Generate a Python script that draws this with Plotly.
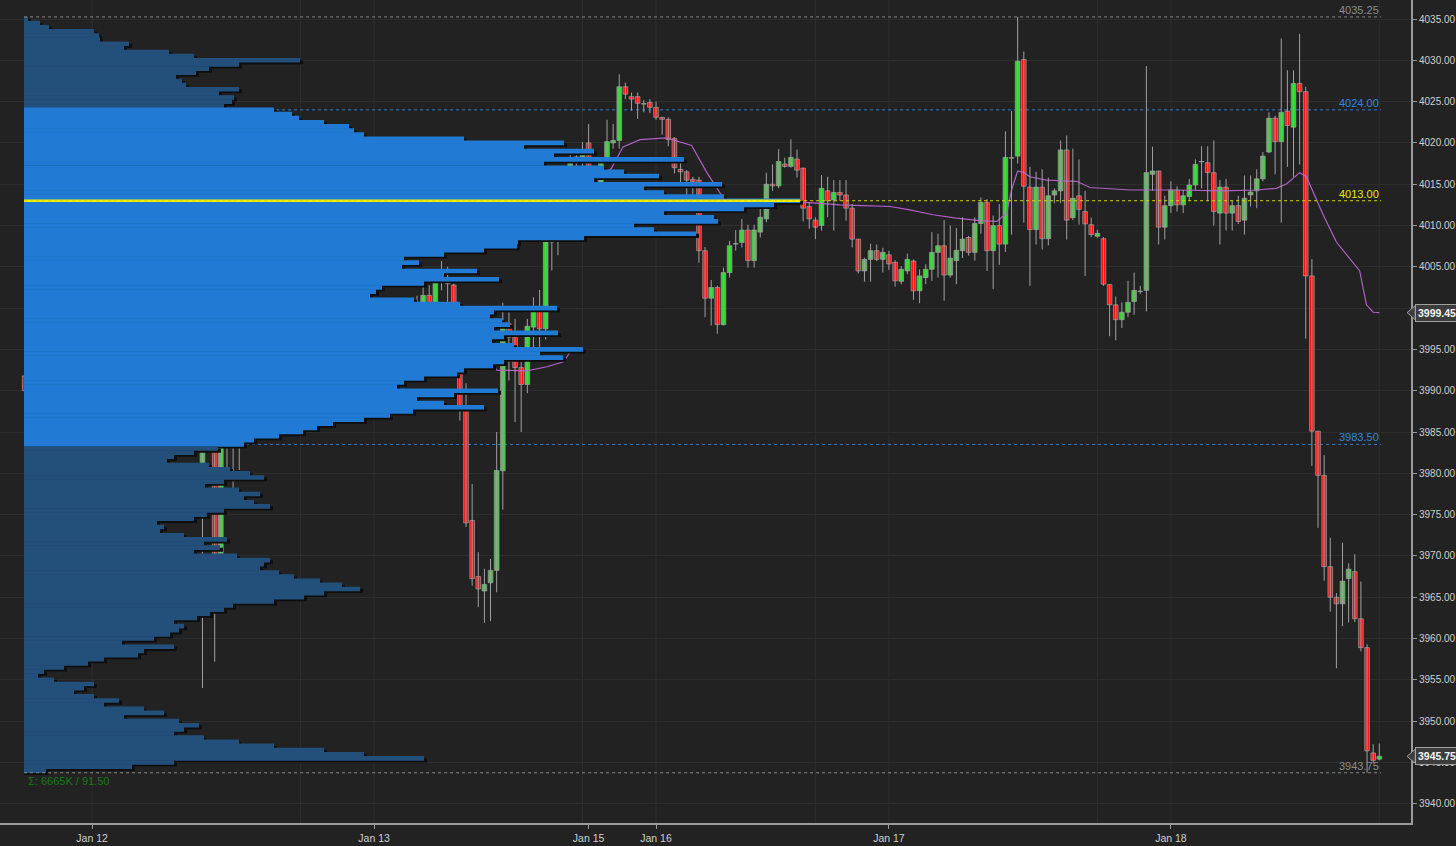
import plotly.graph_objects as go

# ---------------- data ----------------
open_ = [3991.8,3989.7,3988.3,3987.5,3988.6,3989.5,3989.7,3988.3,3988.75,3989.4,
 3989.3,3991.0,3993.95,3994.25,3993.5,3991.5,3988.3,3987.5,3988.0,3988.3,
 3988.3,3989.0,3990.5,3986.5,3989.3,3990.2,3990.55,3993.5,3999.6,3975.1,
 4013.4,3999.95,3970.3,3992.5,3988.3,3990.5,3996.7,4012.0,4011.0,3995.3,
 4016.3,4008.3,4007.25,4000.3,4002.95,4003.5,4002.95,4004.25,4004.55,4006.45,
 4003.75,4000.8,3997.5,3991.3,3994.3,3994.0,3993.75,3994.3,3994.6,3992.9,
 3994.3,3995.8,3997.0,3996.1,4000.7,4000.05,4001.55,3998.1,4003.75,4003.4,
 4002.8,3995.05,3988.0,3974.3,3967.5,3965.75,3966.75,3968.25,3980.3,3998.1,
 3996.8,3992.8,3990.75,3997.7,4000.0,3997.5,4008.0,4008.8,4009.7,4016.1,
 4017.8,4018.3,4020.0,4013.4,4013.5,4017.9,4020.0,4020.3,4026.8,4025.6,
 4025.6,4024.7,4024.9,4024.3,4023.1,4022.85,4020.55,4016.8,4016.5,4015.6,
 4015.5,4006.95,4001.2,4002.5,3998.0,4004.3,4007.75,4007.95,4009.45,4005.75,
 4009.2,4010.8,4015.0,4014.8,4017.45,4017.15,4018.05,4016.95,4012.3,4010.65,
 4010.0,4014.2,4013.1,4014.0,4013.7,4012.1,4008.35,4004.5,4005.9,4006.95,
 4005.9,4006.45,4005.55,4003.25,4004.5,4005.7,4002.1,4003.7,4004.7,4006.75,
 4007.55,4004.0,4005.75,4006.95,4008.55,4006.75,4010.25,4012.8,4006.95,4010.0,
 4007.75,4018.15,4018.4,4030.1,4014.65,4009.5,4014.65,4008.4,4013.7,4014.2,
 4019.15,4010.95,4013.6,4011.7,4010.1,4008.7,4008.4,4002.85,4000.4,3998.6,
 3999.5,4000.8,4002.0,4002.15,4016.2,4016.6,4009.8,4012.4,4014.3,4012.5,
 4013.5,4014.9,4017.7,4017.6,4016.4,4011.5,4014.65,4011.5,4012.4,4010.65,
 4013.7,4014.2,4015.65,4018.9,4023.0,4020.15,4023.85,4021.9,4027.2,4026.2,
 4003.9,3985.1,3979.75,3968.7,3965.0,3964.2,3967.25,3968.1,3962.4,3958.9,
 3946.15,3945.4]
high = [3992.25,3990.2,3989.2,3988.5,3990.9,3990.5,3990.5,3989.3,3989.8,3989.6,
 3991.8,3994.5,3995.2,3995.75,3994.0,3991.9,3988.9,3988.7,3988.2,3988.3,
 3990.9,3991.9,3990.9,3990.2,3991.4,3992.25,3995.9,4000.5,4019.65,4018.0,
 4021.45,4003.0,4002.5,4003.45,3995.2,3999.0,4012.6,4012.6,4011.5,4017.9,
 4018.5,4009.0,4009.0,4004.8,4005.0,4004.0,4005.0,4005.4,4008.2,4008.0,
 4004.0,4001.0,3997.7,3994.5,3996.3,3994.3,3994.8,3995.0,3994.9,3995.1,
 3997.1,3998.4,3998.5,4000.9,4001.5,4002.75,4002.75,4003.85,4005.7,4005.0,
 4002.95,3995.9,3990.9,3978.7,3970.45,3968.45,3969.65,3985.0,4000.65,3999.5,
 3998.7,3993.5,3998.7,4001.3,4002.2,4009.7,4010.7,4009.6,4016.5,4018.7,
 4019.3,4020.1,4022.3,4014.9,4017.9,4022.8,4022.3,4028.3,4027.3,4026.1,
 4026.1,4025.2,4025.3,4025.0,4023.1,4023.1,4020.7,4018.0,4016.7,4015.9,
 4015.9,4007.4,4003.4,4002.7,4004.9,4008.15,4009.45,4010.8,4010.1,4010.1,
 4012.1,4016.4,4017.4,4019.25,4018.2,4020.45,4019.2,4017.0,4012.8,4011.0,
 4016.1,4015.9,4015.5,4015.5,4015.5,4012.6,4008.35,4006.1,4007.8,4007.7,
 4007.3,4006.95,4005.8,4005.1,4006.6,4005.9,4004.7,4005.3,4009.2,4009.0,
 4010.65,4010.0,4009.7,4011.0,4008.75,4011.0,4013.4,4013.2,4011.2,4012.6,
 4021.4,4023.85,4035.25,4031.05,4017.1,4016.5,4016.8,4015.8,4014.5,4020.3,
 4020.9,4019.3,4018.0,4014.2,4010.95,4009.5,4008.6,4002.9,4001.4,4000.7,
 4003.3,4004.3,4002.7,4029.3,4019.55,4016.6,4013.6,4015.35,4014.75,4014.3,
 4015.65,4018.0,4019.6,4019.6,4020.3,4015.5,4015.65,4013.1,4013.6,4016.05,
 4016.05,4016.8,4018.9,4023.7,4023.3,4032.65,4028.8,4028.8,4033.2,4026.8,
 4005.95,3985.1,3982.2,3972.2,3965.5,3971.6,3969.1,3970.2,3966.9,3959.3,
 3947.2,3947.3]
low = [3988.4,3987.55,3985.8,3985.3,3988.2,3988.0,3988.0,3987.9,3988.0,3988.7,
 3989.1,3990.8,3992.6,3992.9,3991.25,3988.0,3985.8,3985.4,3985.1,3985.1,
 3986.4,3988.7,3985.1,3985.8,3988.0,3990.0,3990.2,3992.9,3988.2,3954.0,
 3987.2,3957.2,3969.4,3979.3,3976.6,3980.4,3994.85,4009.8,3992.5,3988.7,
 4006.4,4000.7,3996.1,3991.85,4000.5,4002.35,4000.5,4002.55,4004.15,4002.2,
 3998.7,3995.6,3990.9,3990.6,3992.9,3992.5,3992.9,3994.1,3992.5,3992.3,
 3994.1,3995.8,3995.7,3993.3,3999.0,3999.3,3997.2,3997.9,4002.15,4000.7,
 3994.9,3986.4,3973.5,3966.4,3963.8,3961.9,3962.1,3965.6,3975.6,3991.25,
 3986.2,3985.0,3989.7,3994.1,3994.9,3996.2,4004.55,4006.4,4009.4,4014.7,
 4014.25,4015.5,4012.1,4012.1,4012.1,4017.9,4019.3,4019.3,4025.3,4023.9,
 4022.9,4023.7,4023.6,4022.8,4021.0,4019.6,4016.3,4014.9,4013.2,4013.5,
 4005.5,3998.9,3997.9,3996.9,3997.9,4003.7,4006.95,4007.35,4004.9,4004.9,
 4008.55,4010.4,4014.2,4014.5,4017.0,4017.0,4015.8,4010.5,4009.6,4008.35,
 4009.4,4011.0,4009.4,4013.0,4010.6,4007.35,4004.2,4003.2,4003.2,4005.7,
 4004.3,4004.6,4002.6,4002.9,4004.1,4001.0,4000.6,4002.9,4003.3,4003.7,
 4000.9,4003.7,4002.9,4006.05,4006.35,4005.75,4009.0,4004.5,4002.3,4005.25,
 4006.8,4008.9,4017.5,4010.35,4002.7,4007.7,4007.1,4007.6,4012.7,4012.7,
 4008.3,4010.65,4010.1,4003.9,4008.6,4008.5,4002.7,3996.6,3996.1,3997.6,
 3998.9,3999.2,4001.7,3999.6,4014.2,4007.7,4008.3,4011.5,4011.7,4011.5,
 4013.0,4014.3,4014.5,4013.0,4010.0,4007.7,4009.4,4009.4,4010.2,4008.9,
 4012.3,4012.1,4015.35,4018.75,4016.2,4010.35,4017.1,4015.9,4017.4,3996.3,
 3980.9,3973.4,3967.0,3963.25,3956.4,3961.5,3961.95,3962.0,3958.45,3943.75,
 3944.95,3945.25]
close = [3990.0,3988.3,3987.8,3988.3,3989.5,3989.75,3988.3,3988.75,3989.3,3989.5,
 3991.0,3993.95,3994.25,3993.5,3991.8,3988.3,3987.8,3988.0,3988.0,3988.3,
 3989.0,3990.7,3986.5,3989.3,3990.45,3990.55,3993.7,3999.95,3988.6,4013.2,
 3999.7,3970.3,3992.8,3988.3,3990.45,3996.7,4012.0,4011.05,3995.3,4016.3,
 4008.1,4007.55,4000.3,4002.95,4003.5,4002.9,4004.25,4004.5,4006.4,4003.55,
 4001.0,3997.8,3991.3,3994.3,3994.0,3993.75,3994.25,3994.6,3992.9,3994.5,
 3995.9,3997.0,3996.1,4000.5,4000.05,4001.55,3997.8,4003.5,4003.25,4002.95,
 3995.3,3988.0,3974.0,3967.25,3966.0,3966.55,3968.25,3980.35,3998.1,3996.5,
 3992.8,3990.75,3997.8,3999.7,3997.5,4008.0,4008.7,4009.5,4016.1,4017.7,
 4018.3,4019.1,4013.4,4013.5,4017.9,4020.15,4020.3,4026.8,4025.9,4025.3,
 4024.8,4024.7,4024.3,4023.1,4022.85,4020.4,4017.0,4016.5,4015.5,4015.3,
 4006.95,4001.2,4002.5,3998.0,4004.3,4007.55,4007.75,4009.45,4005.75,4009.45,
 4011.0,4015.0,4014.8,4017.75,4017.15,4018.25,4016.7,4012.1,4010.8,4009.8,
 4014.5,4013.0,4014.0,4013.7,4012.1,4008.35,4004.5,4005.9,4006.95,4005.9,
 4006.75,4005.35,4003.3,4004.7,4005.9,4002.1,4003.9,4004.7,4006.75,4007.55,
 4004.0,4006.05,4007.0,4008.35,4006.75,4010.25,4012.8,4006.95,4010.0,4007.75,
 4018.25,4018.15,4029.9,4014.75,4009.5,4014.65,4008.4,4013.6,4014.2,4019.15,
 4010.65,4013.3,4011.95,4010.2,4008.9,4009.05,4002.9,4000.4,3998.6,3999.5,
 4000.7,4002.15,4002.0,4016.4,4016.6,4009.8,4012.4,4014.3,4012.5,4013.6,
 4014.9,4017.4,4017.7,4016.4,4011.7,4014.65,4011.5,4012.4,4010.5,4013.3,
 4014.05,4015.65,4018.4,4023.0,4020.15,4023.7,4022.1,4027.2,4026.2,4003.9,
 3985.1,3979.75,3968.7,3965.0,3964.2,3966.95,3968.4,3962.4,3958.9,3946.4,
 3945.25,3945.75]
bar_index = list(range(len(close)))

date_ticks = [11, 57, 92, 103, 141, 187]
date_labels = ["Jan 12", "Jan 13", "Jan 15", "Jan 16", "Jan 17", "Jan 18"]
session_marks = [11, 45, 57, 91, 103, 129, 141, 175, 187, 221]

# VWAP readings (bar index, price); None = session reset
vwap_x = [1.1, 2.5, 10.1, 13.9, 18.3, 24.8, 27.0, 28.9, 30.0, 30.8, 31.3, 33.0, 34.6, 36.2,
          38.4, 40.6, 43.3, 49.3, 61.2, 69.9, 72.1, 75.9, 77.0, 81.9, 85.2, 87.9, 89.2, 91.0,
          None,
          92, 93, 95.7, 97.6, 100.4, 104.7, 108.8, 111.3, 114, 116.7, 121.6, 124.9, 129.2,
          133, 136.8, 141.2, 144.4, 148.2, 152, 155.8, 158.6, 160.2, 161, 162, 163, 164,
          166.7, 171.6, 173.8, 180.4, 187.4, 195.5, 201, 204.2, 205.9, 208, 209.1, 210.8,
          211.9, 214, 216.2, 217.8, 218.9, 220, 221]
vwap_y = [3989.3, 3988.6, 3988.8, 3990.0, 3989.0, 3989.1, 3991.4, 3994.0, 3995.6, 3991.8,
          3989.6, 3989.3, 3989.3, 3990.5, 3992.3, 3993.7, 3994.8, 3995.0, 3995.1, 3995.1,
          3995.0, 3993.7, 3992.5, 3992.4, 3992.9, 3993.5, 3994.9, 3995.2,
          None,
          4015.9, 4015.3, 4016.9, 4019.5, 4020.4, 4020.6, 4019.7, 4016.4, 4013.3, 4012.5,
          4012.6, 4012.9, 4012.7, 4012.5, 4012.4, 4012.3, 4011.9, 4011.3, 4010.9, 4010.6,
          4010.5, 4011.5, 4014.3, 4016.6, 4016.4, 4015.9, 4015.5, 4015.35, 4014.6, 4014.3,
          4014.3, 4014.2, 4014.3, 4014.5, 4015.05, 4016.4, 4015.9, 4013.0, 4011.2, 4008.0,
          4006.0, 4004.5, 4000.4, 3999.5, 3999.45]

# Volume profile (0.5-pt rows from 4035.0 down to 3944.0), relative volume
profile_top = 4035.0
profile_step = 0.5
profile_vol = [
 4, 16, 25, 70, 75, 76, 105, 100, 145, 170, 276, 215, 185, 172, 152, 158, 162, 215, 195, 210,
 208, 200, 250,
 268, 275, 300, 325, 330, 340, 440, 540, 500, 570, 530, 660, 520, 580, 600, 635, 570, 698,
 620, 640, 700, 776, 750, 720, 640, 690, 694, 610, 630, 672, 560, 494, 493, 460, 420, 380,
 395, 378, 453, 420, 475, 400, 358, 352, 346, 390, 436, 533, 470, 466, 478, 486, 470, 534,
 480, 468, 490, 559, 516, 539, 480, 469, 440, 433, 400, 380, 373, 474, 430, 393, 420, 460,
 389, 366, 340, 309, 293, 279, 255, 230, 220,
 194, 170, 150, 143, 185, 206, 226, 240, 200, 181, 215, 236, 220, 230, 246, 200, 183, 170,
 133, 140, 136, 160, 203, 180, 196, 170, 213, 246, 240, 236, 255, 270, 296, 318, 336, 300,
 280, 250, 209, 200, 186, 173, 150, 160, 155, 146, 130, 98, 150, 120, 114, 80, 64, 40, 20,
 14, 30, 70, 60, 50, 70, 95, 80, 120, 140, 100, 155, 175, 160, 150, 180, 215, 250, 300, 340,
 400, 150, 108, 22]
profile_price = [profile_top - profile_step * i for i in range(len(profile_vol))]
va_high, va_low, poc = 4024.00, 3983.50, 4013.00
range_high, range_low = 4035.25, 3943.75
last_price, vwap_last = 3945.75, 3999.45
summary_text = "Σ: 6665K / 91.50"

# ---------------- styling ----------------
BG = "#222222"
VA_BLUE = "#217bd5"
OUT_BLUE = "#234f7b"
GREEN = "#2fd62f"
RED = "#ff1010"
EDGE = "#a0a0a0"
FONT = "Liberation Sans, Arial, sans-serif"

fig = go.Figure()

# profile shadow + bars
prof_colors = [VA_BLUE if va_low <= p <= va_high else OUT_BLUE for p in profile_price]
fig.add_trace(go.Bar(
    x=[v + 3 for v in profile_vol], y=[p - 0.25 for p in profile_price],
    orientation="h", width=profile_step, xaxis="x2", yaxis="y",
    marker=dict(color="#0e0e0e", line=dict(width=0)), hoverinfo="skip", showlegend=False))
fig.add_trace(go.Bar(
    x=profile_vol, y=profile_price, orientation="h", width=profile_step * 1.12,
    xaxis="x2", yaxis="y", marker=dict(color=prof_colors, line=dict(width=0)),
    hoverinfo="skip", showlegend=False))

# VWAP
fig.add_trace(go.Scatter(x=vwap_x, y=vwap_y, mode="lines", line=dict(color="#b060c4", width=1.2),
                         connectgaps=False, hoverinfo="skip", showlegend=False))

# wicks
wx, wy = [], []
for i, h, l in zip(bar_index, high, low):
    wx += [i, i, None]
    wy += [l, h, None]
fig.add_trace(go.Scatter(x=wx, y=wy, mode="lines", line=dict(color=EDGE, width=1),
                         hoverinfo="skip", showlegend=False))

# bodies
body_base = [min(o, c) for o, c in zip(open_, close)]
body_h = [max(abs(c - o), 0.06) for o, c in zip(open_, close)]
body_col = [GREEN if c >= o else RED for o, c in zip(open_, close)]
fig.add_trace(go.Bar(x=bar_index, y=body_h, base=body_base, width=0.76,
                     marker=dict(color=body_col, line=dict(color=EDGE, width=0.7)),
                     hoverinfo="skip", showlegend=False))

x_start, x_end = -0.1, 221.3

shapes = []
for s in session_marks:
    shapes.append(dict(type="line", xref="x", yref="paper", x0=s, x1=s, y0=0, y1=1,
                       line=dict(color="#2e2e2e", width=1), layer="below"))
for lvl, col in [(va_high, "#2a7fd8"), (va_low, "#2a7fd8")]:
    shapes.append(dict(type="line", xref="x", yref="y", x0=x_start, x1=x_end, y0=lvl, y1=lvl,
                       line=dict(color=col, width=1, dash="dot"), layer="below"))
for lvl in [range_high, range_low]:
    shapes.append(dict(type="line", xref="x", yref="y", x0=x_start, x1=x_end, y0=lvl, y1=lvl,
                       line=dict(color="#8a8a8a", width=1, dash="dot"), layer="above"))
shapes.append(dict(type="line", xref="x2", yref="y", x0=0, x1=max(profile_vol), y0=poc, y1=poc,
                   line=dict(color="#f2f200", width=2.5), layer="above"))
shapes.append(dict(type="line", xref="x", yref="y", x0=x_start, x1=x_end, y0=poc, y1=poc,
                   line=dict(color="#d8d800", width=1, dash="dot"), layer="above"))

annotations = []
for lvl, col in [(range_high, "#8c8c8c"), (va_high, "#2f86e0"), (poc, "#e8e800"),
                 (va_low, "#2f86e0"), (range_low, "#8c8c8c")]:
    annotations.append(dict(x=x_end, y=lvl, xref="x", yref="y", text=f"{lvl:.2f}",
                            showarrow=False, xanchor="right", yanchor="bottom",
                            font=dict(color=col, size=11, family=FONT), yshift=-1))
annotations.append(dict(x=0, y=range_low, xref="x2", yref="y", text=summary_text, showarrow=False,
                        xanchor="left", yanchor="top", xshift=2,
                        font=dict(color="#187a18", size=11, family=FONT)))
for val in [vwap_last, last_price]:
    annotations.append(dict(x=1.0025, y=val, xref="paper", yref="y", text=f"<b>{val:.2f}</b>",
                            showarrow=False, xanchor="left", yanchor="middle",
                            bgcolor="#3c3c3c", bordercolor="#a0a0a0", borderwidth=1, borderpad=2,
                            font=dict(color="#f4f4f4", size=10.5, family=FONT)))
    shapes.append(dict(type="path", xref="paper", yref="y",
                       path=f"M 0.9972,{val} L 1.0030,{val + 0.85} L 1.0030,{val - 0.85} Z",
                       fillcolor="#3c3c3c", line=dict(color="#a0a0a0", width=1), layer="above"))

fig.update_layout(
    width=1456, height=846, margin=dict(l=0, r=45, t=0, b=23, autoexpand=False),
    paper_bgcolor=BG, plot_bgcolor=BG, barmode="overlay", showlegend=False,
    font=dict(family=FONT, color="#d0d0d0", size=11),
    xaxis=dict(range=[-4.03, 226.17], showgrid=False, zeroline=False, automargin=False,
               tickmode="array", tickvals=date_ticks, ticktext=date_labels,
               ticks="outside", ticklen=4, tickcolor="#9a9a9a",
               showline=True, linecolor="#9a9a9a", linewidth=2,
               tickfont=dict(color="#d0d0d0", size=10.5, family=FONT)),
    xaxis2=dict(overlaying="x", range=[-24, 1387], visible=False),
    yaxis=dict(range=[3937.67, 4037.30], side="right", dtick=5, tick0=3940, tickformat=".2f",
               showgrid=True, gridcolor="#2d2d2d", gridwidth=1, zeroline=False, automargin=False,
               ticks="outside", ticklen=4, tickcolor="#9a9a9a",
               showline=True, linecolor="#9a9a9a", linewidth=2,
               tickfont=dict(color="#d0d0d0", size=10, family=FONT)),
    shapes=shapes, annotations=annotations,
)

fig.write_html("out.html", config={"displayModeBar": False},
               post_script="document.body.style.margin='0px';document.body.style.background='#222222';")
